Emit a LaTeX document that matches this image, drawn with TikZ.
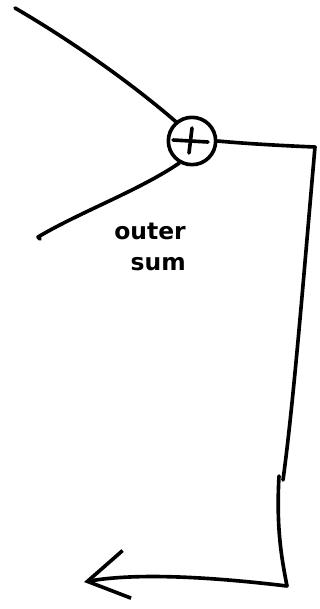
\documentclass[tikz,border=0pt]{standalone}
\usepackage{fontspec}
\newfontfamily\sketchfont{DejaVu Sans}
\usetikzlibrary{arrows.meta,calc,positioning}

\begin{document}
\begin{tikzpicture}[
  x=0.03cm, y=-0.03cm,
  pen/.style={line width=3.1pt, line cap=round, line join=round},
  adder/.style={pen, draw, circle, minimum size=1.42cm, inner sep=0pt},
  note/.style={font=\sketchfont\fontsize{20}{28}\selectfont\bfseries, align=center, inner sep=0pt}
]
  \useasboundingbox (0,0) rectangle (320,609);

  % Sum node
  \node[adder] (sum) at (192,141) {};
  \draw[pen] ($(sum.center)+(-19,-1)$) -- ($(sum.center)+(16,1)$);
  \draw[pen] ($(sum.center)+(0,-13)$) -- ($(sum.center)+(-3,12)$);

  % Free ends
  \coordinate (topin) at (15,8);
  \coordinate (lowout) at (38,237);
  \coordinate (corner) at (315,147);
  \coordinate (breakA) at (283,480);
  \coordinate (breakB) at (279,476);
  \coordinate (foot) at (287,586);
  \coordinate (tip) at (84,582);

  % Label
  \node[note] (lbl) at (150,247) {outer\\[-2pt]\hspace*{14pt}sum};

  % Inputs
  \draw[pen] (topin) .. controls (70,40) and (130,82) .. (sum.130);
  \draw[pen] (sum.240) .. controls (140,190) and (80,212) .. (lowout) -- ++(2,2);

  % Output loop
  \draw[pen] (sum.east) .. controls (250,144) and (290,146) .. (corner)
    .. controls (305,260) and (294,400) .. (breakA);
  \draw[pen, -{Straight Barb[length=1.2cm, width=1.45cm, line width=3.1pt]}]
    (breakB) .. controls (276,530) and (282,560) .. (foot)
    .. controls (220,578) and (140,572) .. (tip);
\end{tikzpicture}
\end{document}
